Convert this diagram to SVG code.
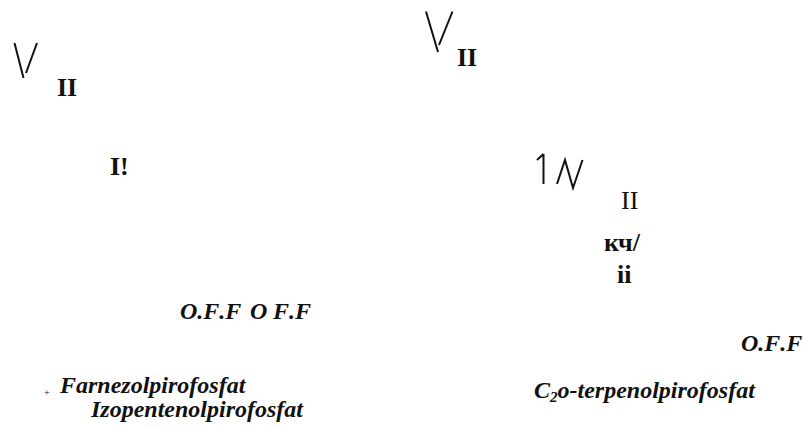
<svg xmlns="http://www.w3.org/2000/svg" width="805" height="428" viewBox="0 0 805 428">
<style>
text{font-family:"Liberation Serif","Times New Roman",serif;fill:#111;font-size:26px}
.b{font-weight:bold}
.bi{font-weight:bold;font-style:italic;font-size:24px}
.k{font-kerning:none}
.s{fill:none;stroke:#111;stroke-width:2}
</style>
<rect width="805" height="428" fill="#fff"/>
<g id="connectors">
<path class="s" d="M14.500 43L23.500 78M37 43L26 73"/>
<path class="s" d="M426 11.500L438 52M452.500 11.500L439 45"/>
<path class="s" d="M543.500 154L543.500 184M543.500 154L537 160M557 184L565 160L573 188L582.500 160"/>
</g>
<g id="labels">
<text class="b" x="57" y="96">II</text>
<text class="b" x="110" y="175">I!</text>
<text class="b" x="457" y="66">II</text>
<text x="621" y="209">II</text>
<text class="b" x="604" y="251">кч/</text>
<text class="b" x="617" y="283">ii</text>
<text class="bi k" x="180" y="319">O.F.F</text>
<text class="bi k" x="250" y="319">O</text>
<text class="bi k" x="273" y="319">F.F</text>
<text class="bi k" x="741" y="351">O.F.F</text>
<text x="44" y="396" style="font-size:10px">+</text>
<text class="bi" x="60" y="393">Farnezolpirofosfat</text>
<text class="bi" x="91" y="417">Izopentenolpirofosfat</text>
<text class="bi" x="534" y="398">C<tspan dy="4" style="font-size:15px">2</tspan><tspan dy="-4">o-terpenolpirofosfat</tspan></text>
</g>
</svg>
